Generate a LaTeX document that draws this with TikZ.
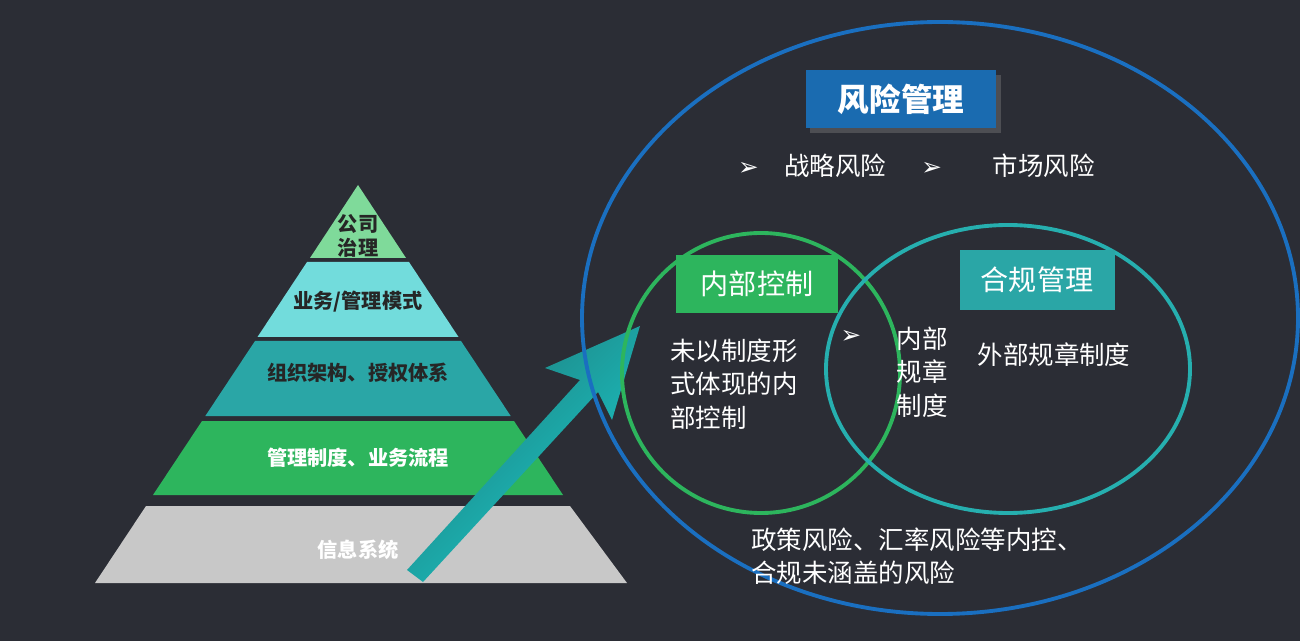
\documentclass[tikz,border=0pt]{standalone}
\usepackage{fontspec}
\setmainfont{Noto Sans CJK SC}
\newfontfamily\symfont{DejaVu Sans}
\usetikzlibrary{positioning,shadows}
\definecolor{bgdark}{HTML}{2B2D35}
\definecolor{lightgreen}{HTML}{7FDA9A}
\definecolor{lightcyan}{HTML}{72DCDC}
\definecolor{tealmid}{HTML}{2AA6A6}
\definecolor{greenmid}{HTML}{2DB55D}
\definecolor{greylayer}{HTML}{C8C8C8}
\definecolor{bluering}{HTML}{1A6FC0}
\definecolor{titleblue}{HTML}{1A6BB0}
\newcommand{\bmark}{{\symfont\fontsize{14}{16}\selectfont ➢}}
\begin{document}
\begin{tikzpicture}[x=0.02cm,y=-0.02cm,
    laytext/.style={font=\fontsize{11.5}{14}\selectfont\bfseries, text=black!85, align=center},
    ring/.style={line width=2.2pt},
    tagbox/.style={rectangle, text=white, font=\fontsize{16}{19}\selectfont, inner sep=0pt, minimum height=1.15cm},
    plain/.style={text=white, font=\fontsize{14.5}{19}\selectfont, align=left, inner sep=0pt}
]
% background
\fill[bgdark] (0,0) rectangle (1300,641);
\useasboundingbox (0,0) rectangle (1300,641);

% pyramid
\fill[lightgreen] (358,185) -- (406,258) -- (310,258) -- cycle;
\fill[lightcyan] (307,262) -- (409,262) -- (458.5,337) -- (257.5,337) -- cycle;
\fill[tealmid] (255,341) -- (461,341) -- (510.7,416) -- (205.3,416) -- cycle;
\fill[greenmid] (202,421) -- (514,421) -- (563,495) -- (153,495) -- cycle;
\fill[greylayer] (146,506) -- (570,506) -- (627,583) -- (95,583) -- cycle;
\node[laytext] (gov) at (358,236) {公司\\治理};
\node[laytext] (mode) at (358,302) {业务/管理模式};
\node[laytext] (org) at (358,373) {组织架构、授权体系};
\node[laytext, text=white] (rule) at (358,458) {管理制度、业务流程};
\node[laytext, text=white] (info) at (358,550) {信息系统};

% arrow
\shade[left color=tealmid!75!black, right color=tealmid!60!cyan, shading angle=45]
  (407,570) -- (580,380) -- (545,368) -- (640,326) -- (612,420) -- (598,392) -- (423,582) -- cycle;

% circles
\draw[ring, bluering] (940,318) ellipse (358 and 296);
\draw[ring, greenmid] (761,373) ellipse (139 and 140);
\draw[ring, tealmid!90!cyan] (1008,369) ellipse (182 and 144);

% labels
\node[tagbox, fill=titleblue, minimum width=3.82cm, font=\fontsize{18}{21}\selectfont\bfseries, drop shadow={opacity=0.4}] (risk) at (901,99) {风险管理};
\node[plain] (strat) at (812,166) {\bmark\quad 战略风险};
\node[plain] (market) at (1008,166) {\bmark\qquad 市场风险};
\node[tagbox, fill=greenmid, minimum width=3.24cm] (ctrl) at (757,284) {内部控制};
\node[tagbox, fill=tealmid, minimum width=3.1cm, minimum height=1.2cm] (comp) at (1037,280) {合规管理};
\node[plain, anchor=west] (informal) at (670,384) {未以制度形\\式体现的内\\部控制};
\node[plain] (arrowmark) at (851,337) {\bmark};
\node[plain, align=center] (inner) at (922,372) {内部\\规章\\制度};
\node[plain] (outer) at (1054,355) {外部规章制度};
\node[plain, anchor=west] (other) at (751,556) {政策风险、汇率风险等内控、\\合规未涵盖的风险};
\end{tikzpicture}
\end{document}
